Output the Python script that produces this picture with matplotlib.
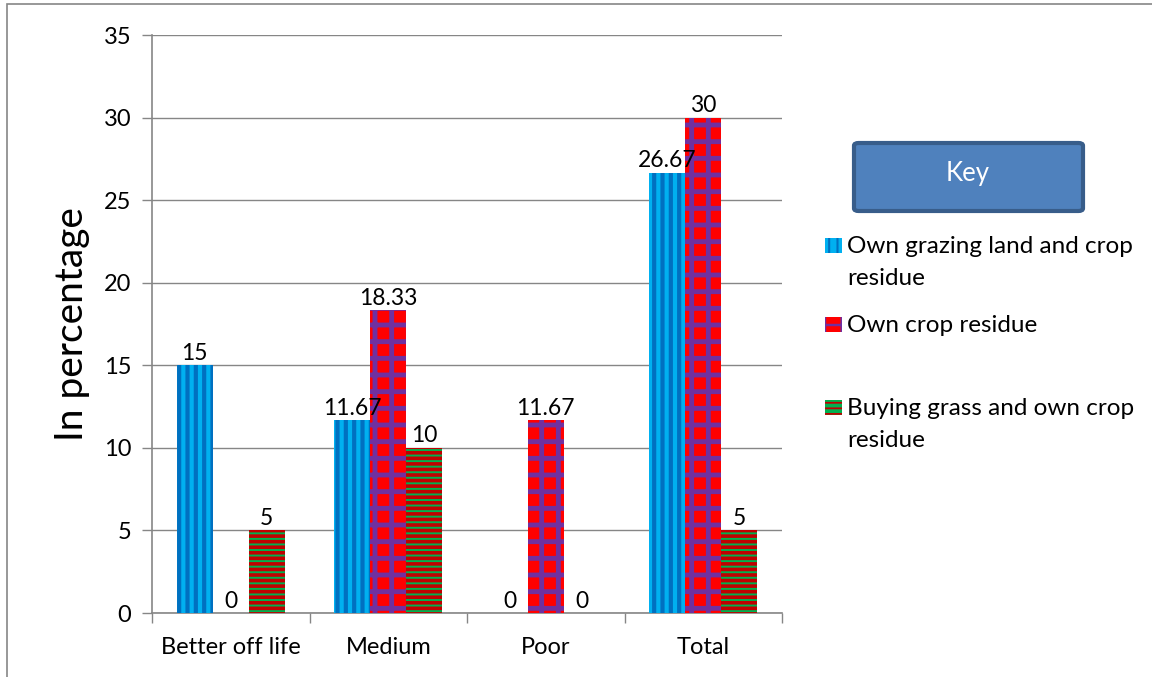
#!/usr/bin/env python3
"""
Source of feed by wealth group, grouped bar chart
"""

import numpy as np
import matplotlib.pyplot as plt
from matplotlib.patches import Rectangle, FancyBboxPatch

CATEGORIES = ['Better off life', 'Medium', 'Poor', 'Total']
SERIES_NAMES = ['Own grazing land and crop\nresidue',
                'Own crop residue',
                'Buying grass and own crop\nresidue']
GRAZING_AND_RESIDUE = [15, 11.67, 0, 26.67]
OWN_RESIDUE = [0, 18.33, 11.67, 30]
BUYING_GRASS = [5, 10, 0, 5]
Y_TICKS = [0, 5, 10, 15, 20, 25, 30, 35]

FONT = ['Lato', 'DejaVu Sans']
GREY = '#868686'

# face colour, hatch, hatch colour, hatch width for each series
STYLES = [
    ('#00B0F0', '||', '#0070C0', 3.0),
    ('#FF0000', '+', '#7030A0', 3.5),
    ('#00B050', '---', '#C00000', 2.6),
]


def main():
    plt.rcParams['font.family'] = FONT
    fig = plt.figure(figsize=(11.52, 6.77), dpi=100)
    ax = fig.add_axes([152 / 1152, 1 - 613 / 677, 630 / 1152, 578 / 677])

    series = [GRAZING_AND_RESIDUE, OWN_RESIDUE, BUYING_GRASS]
    draw_bars(ax, series)
    style_axes(ax)
    draw_key(fig)

    # thin frame round the whole chart
    fig.add_artist(Rectangle((7 / 1152, -0.01), 1.0, 1 - 4 / 677 + 0.01,
                             transform=fig.transFigure, fill=False,
                             edgecolor=GREY, linewidth=1.2))

    fig.savefig('out.png', dpi=100)


def draw_bars(ax, series):
    x = np.arange(len(CATEGORIES))
    width = 0.229
    for i, values in enumerate(series):
        face, hatch, hcolor, hwidth = STYLES[i]
        plt.rcParams['hatch.linewidth'] = hwidth
        pos = x + (i - 1) * width
        bars = ax.bar(pos, values, width, color=face, hatch=hatch,
                      edgecolor=hcolor, linewidth=0, zorder=3)
        for b, v in zip(bars, values):
            label = f'{v:g}'
            ax.annotate(label, (b.get_x() + b.get_width() / 2, v),
                        xytext=(0, 1), textcoords='offset points',
                        ha='center', va='bottom', fontsize=16.5, zorder=4)


def style_axes(ax):
    ax.set_xlim(-0.5, len(CATEGORIES) - 0.5)
    ax.set_ylim(0, 35)
    ax.set_yticks(Y_TICKS)
    ax.set_xticks(np.arange(len(CATEGORIES)))
    ax.set_xticklabels(CATEGORIES, fontsize=17)
    ax.tick_params(axis='x', length=0, pad=17)
    ax.tick_params(axis='y', labelsize=17, colors=GREY, labelcolor='black',
                   length=7, width=1, pad=8)
    # category boundary ticks under the x axis
    ax.set_xticks(np.arange(len(CATEGORIES) + 1) - 0.5, minor=True)
    ax.tick_params(axis='x', which='minor', length=7, width=1, colors=GREY)
    ax.grid(axis='y', color=GREY, linewidth=1, zorder=0)
    ax.set_axisbelow(True)
    for side in ['top', 'right']:
        ax.spines[side].set_visible(False)
    for side in ['left', 'bottom']:
        ax.spines[side].set_color(GREY)
        ax.spines[side].set_linewidth(1.2)
    ax.set_ylabel('In percentage', fontsize=28, labelpad=10)


def draw_key(fig):
    W, H = 1152, 677
    box = FancyBboxPatch((854 / W, 1 - 211 / H), 229 / W, 68 / H,
                         boxstyle='round,pad=0,rounding_size=0.004',
                         transform=fig.transFigure, facecolor='#4F81BD',
                         edgecolor='#385D8A', linewidth=3)
    fig.add_artist(box)
    fig.text(968 / W, 1 - 173 / H, 'Key', color='white', fontsize=18.5,
             ha='center', va='center')

    rows = [246, 325, 408]
    for i, (name, y) in enumerate(zip(SERIES_NAMES, rows)):
        face, hatch, hcolor, hwidth = STYLES[i]
        plt.rcParams['hatch.linewidth'] = hwidth / 2
        sw = Rectangle((825 / W, 1 - (y + 7) / H), 17 / W, 15 / H,
                       transform=fig.transFigure, facecolor=face,
                       hatch=hatch, edgecolor=hcolor, linewidth=0)
        fig.add_artist(sw)
        fig.text(847 / W, 1 - (y - 10) / H, name, fontsize=17.5,
                 ha='left', va='top', linespacing=1.65)


if __name__ == '__main__':
    main()
